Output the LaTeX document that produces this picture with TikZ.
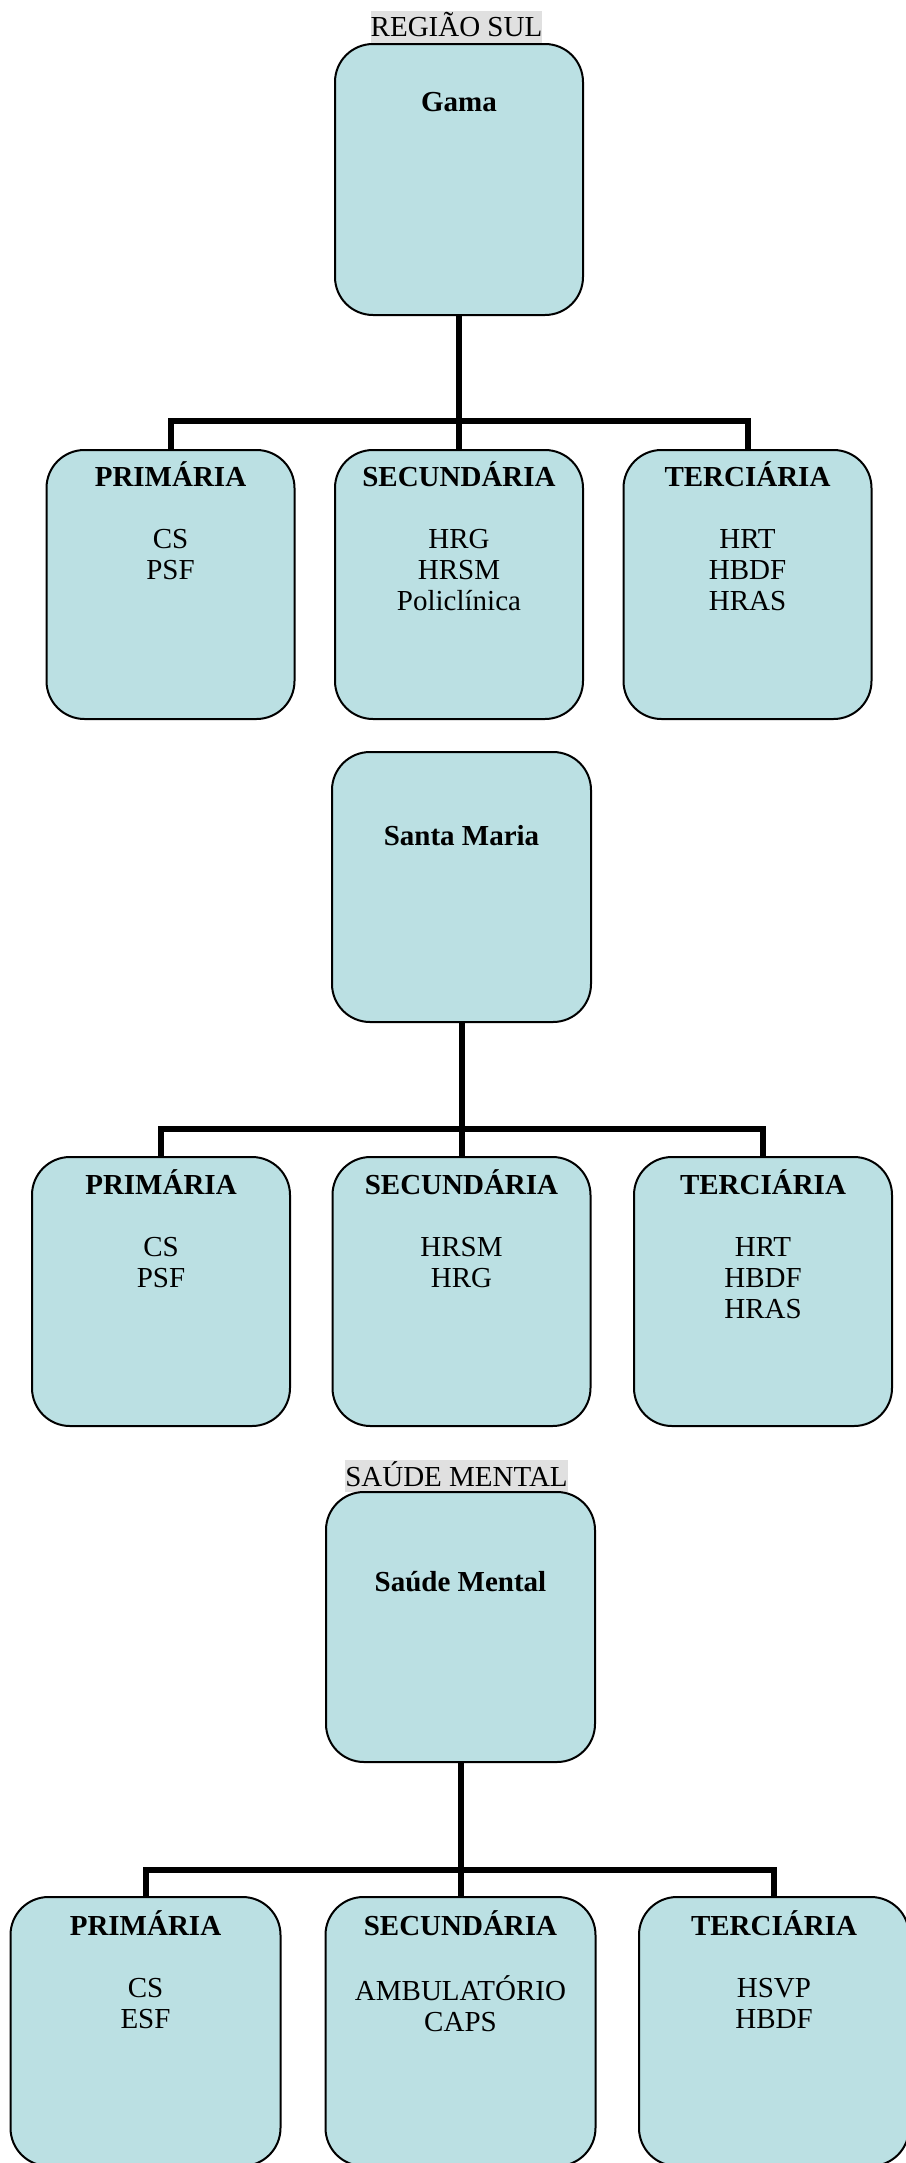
\documentclass[tikz,border=0pt]{standalone}
\usepackage{fontspec}
\setmainfont{Liberation Serif}
\usetikzlibrary{positioning,calc}

\definecolor{azulcaixa}{RGB}{187,224,227}
\definecolor{cinzarotulo}{RGB}{224,224,224}

\tikzset{
  caixa/.style={draw=black, line width=1pt, fill=azulcaixa, rounded corners=19pt, inner sep=0pt},
  conector/.style={line width=3pt, line join=miter},
  texto/.style={anchor=base, inner sep=0pt, font=\fontsize{14.5pt}{15.5pt}\selectfont},
  rotulo/.style={anchor=base, fill=cinzarotulo, inner xsep=0pt, inner ysep=0pt,
    text height=12.9pt, text depth=3.1pt, font=\fontsize{14.5pt}{15.5pt}\selectfont}
}

% titulo em negrito, linha em branco e os servicos
\newcommand{\bloco}[2]{\begin{tabular}[t]{@{}c@{}}\textbf{#1}\\ \\ #2\end{tabular}}

\begin{document}
\begin{tikzpicture}[x=0.5pt, y=-0.5pt]
    \useasboundingbox (0,0) rectangle (905,2163);

    % Regiao Sul - Gama
    \node[rotulo] (regiaoSul) at (456.5,36.8) {REGIÃO SUL};
    \node[caixa, minimum width=124pt, minimum height=135.5pt] (gama) at (459,179.5) {};
    \node[texto] (tGama) at ($(gama.north)+(0,68.5)$) {\textbf{Gama}};

    \node[caixa, minimum width=124pt, minimum height=134.5pt] (primGama) at (170.5,584.5) {};
    \node[caixa, minimum width=124pt, minimum height=134.5pt] (secGama) at (459,584.5) {};
    \node[caixa, minimum width=124pt, minimum height=134.5pt] (tercGama) at (747.5,584.5) {};
    \node[texto] (tPrimGama) at ($(primGama.north)+(0,37)$) {\bloco{PRIMÁRIA}{CS\\PSF}};
    \node[texto] (tSecGama) at ($(secGama.north)+(0,37)$) {\bloco{SECUNDÁRIA}{HRG\\HRSM\\Policlínica}};
    \node[texto] (tTercGama) at ($(tercGama.north)+(0,37)$) {\bloco{TERCIÁRIA}{HRT\\HBDF\\HRAS}};

    \coordinate (barraGama) at (gama.south |- 0,421);
    \draw[conector] (gama.south) -- (secGama.north);
    \draw[conector] (primGama.north) |- (barraGama) -| (tercGama.north);

    % Santa Maria
    \node[caixa, minimum width=129.5pt, minimum height=135pt] (santaMaria) at (461.5,887) {};
    \node[texto] (tSantaMaria) at ($(santaMaria.north)+(0,94.5)$) {\textbf{Santa Maria}};

    \node[caixa, minimum width=129pt, minimum height=134.5pt] (primSM) at (161,1291.5) {};
    \node[caixa, minimum width=129pt, minimum height=134.5pt] (secSM) at (461.5,1291.5) {};
    \node[caixa, minimum width=129pt, minimum height=134.5pt] (tercSM) at (763,1291.5) {};
    \node[texto] (tPrimSM) at ($(primSM.north)+(0,38)$) {\bloco{PRIMÁRIA}{CS\\PSF}};
    \node[texto] (tSecSM) at ($(secSM.north)+(0,38)$) {\bloco{SECUNDÁRIA}{HRSM\\HRG}};
    \node[texto] (tTercSM) at ($(tercSM.north)+(0,38)$) {\bloco{TERCIÁRIA}{HRT\\HBDF\\HRAS}};

    \coordinate (barraSM) at (santaMaria.south |- 0,1129);
    \draw[conector] (santaMaria.south) -- (secSM.north);
    \draw[conector] (primSM.north) |- (barraSM) -| (tercSM.north);

    % Saude Mental
    \node[rotulo] (rotuloSaude) at (456.5,1486) {SAÚDE MENTAL};
    \node[caixa, minimum width=134.5pt, minimum height=135pt] (saude) at (460.5,1627) {};
    \node[texto] (tSaude) at ($(saude.north)+(0,100.5)$) {\textbf{Saúde Mental}};

    \node[caixa, minimum width=135pt, minimum height=134.5pt] (primSaude) at (145.5,2031.5) {};
    \node[caixa, minimum width=135pt, minimum height=134.5pt] (secSaude) at (460.5,2031.5) {};
    \node[caixa, minimum width=135pt, minimum height=134.5pt] (tercSaude) at (774,2031.5) {};
    \node[texto] (tPrimSaude) at ($(primSaude.north)+(0,39)$) {\bloco{PRIMÁRIA}{CS\\ESF}};
    \node[texto] (tSecSaude) at ($(secSaude.north)+(0,39)$) {\bloco{SECUNDÁRIA}{AMBULATÓRIO\\CAPS}};
    \node[texto] (tTercSaude) at ($(tercSaude.north)+(0,39)$) {\bloco{TERCIÁRIA}{HSVP\\HBDF}};

    \coordinate (barraSaude) at (saude.south |- 0,1870);
    \draw[conector] (saude.south) -- (secSaude.north);
    \draw[conector] (primSaude.north) |- (barraSaude) -| (tercSaude.north);
\end{tikzpicture}
\end{document}
